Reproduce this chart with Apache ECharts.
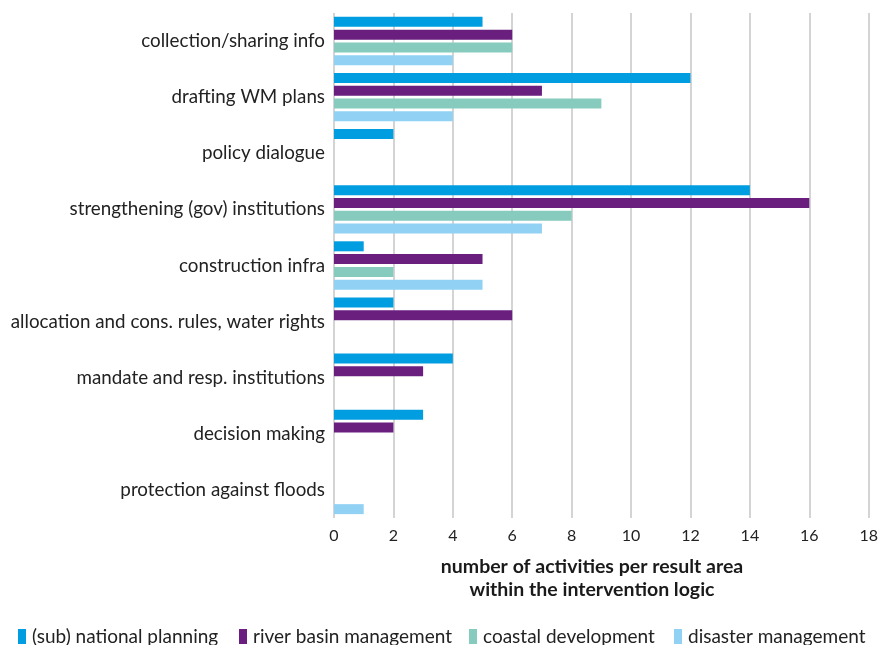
<!DOCTYPE html>
<html>
<head>
<meta charset="utf-8">
<script src="https://cdn.jsdelivr.net/npm/echarts@6/dist/echarts.min.js"></script>
<style>
html,body{margin:0;padding:0;background:#fff;}
#chart{width:881px;height:645px;}
</style>
</head>
<body>
<div id="chart"></div>
<script>
const categories = [
  'collection/sharing info',
  'drafting WM plans',
  'policy dialogue',
  'strengthening (gov) institutions',
  'construction infra',
  'allocation and cons. rules, water rights',
  'mandate and resp. institutions',
  'decision making',
  'protection against floods'
];
const seriesNames = ['(sub) national planning', 'river basin management', 'coastal development', 'disaster management'];
const nationalPlanning = [5, 12, 2, 14, 1, 2, 4, 3, 0];
const riverBasin = [6, 7, 0, 16, 5, 6, 3, 2, 0];
const coastal = [6, 9, 0, 8, 2, 0, 0, 0, 0];
const disaster = [4, 4, 0, 7, 5, 0, 0, 0, 1];
const xTicks = [0, 2, 4, 6, 8, 10, 12, 14, 16, 18];

const colors = ['#009EE0', '#6A1F7F', '#86CBBE', '#91D2F4'];
const values = [nationalPlanning, riverBasin, coastal, disaster];
const FONT = 'Lato';

const chart = echarts.init(document.getElementById('chart'), null, {renderer: 'canvas'});
const legendLefts = [13, 234, 464, 669];
chart.setOption({
  animation: false,
  textStyle: {fontFamily: FONT},
  grid: {left: 334, right: 9, top: 13, height: 505, containLabel: false},
  title: {
    text: 'number of activities per result area\nwithin the intervention logic',
    left: 587, top: 550, textAlign: 'center',
    textStyle: {fontFamily: FONT, fontSize: 19.5, fontWeight: 'bold', color: '#1a1a1a', lineHeight: 23}
  },
  legend: seriesNames.map((n, i) => ({
    data: [n], left: legendLefts[i], top: 622,
    icon: 'rect', itemWidth: 8, itemHeight: 15, itemGap: 0,
    textStyle: {fontFamily: FONT, fontSize: 19, color: '#222', padding: [0, 0, 0, 1]}
  })),
  xAxis: {
    type: 'value', min: xTicks[0], max: xTicks[xTicks.length - 1], interval: 2,
    axisLine: {show: false}, axisTick: {show: false},
    axisLabel: {fontSize: 16, color: '#222', margin: 10, fontFamily: FONT},
    splitLine: {show: true, lineStyle: {color: '#c6c6c6', width: 1.5}}
  },
  yAxis: {
    type: 'category', data: categories, inverse: true,
    axisLine: {show: false}, axisTick: {show: false},
    axisLabel: {fontSize: 18.8, color: '#222', margin: 9, fontFamily: FONT}
  },
  series: seriesNames.map((n, i) => ({
    name: n, type: 'bar', data: values[i], barWidth: 10, barGap: '28%',
    itemStyle: {color: colors[i]}
  }))
});
</script>
</body>
</html>
